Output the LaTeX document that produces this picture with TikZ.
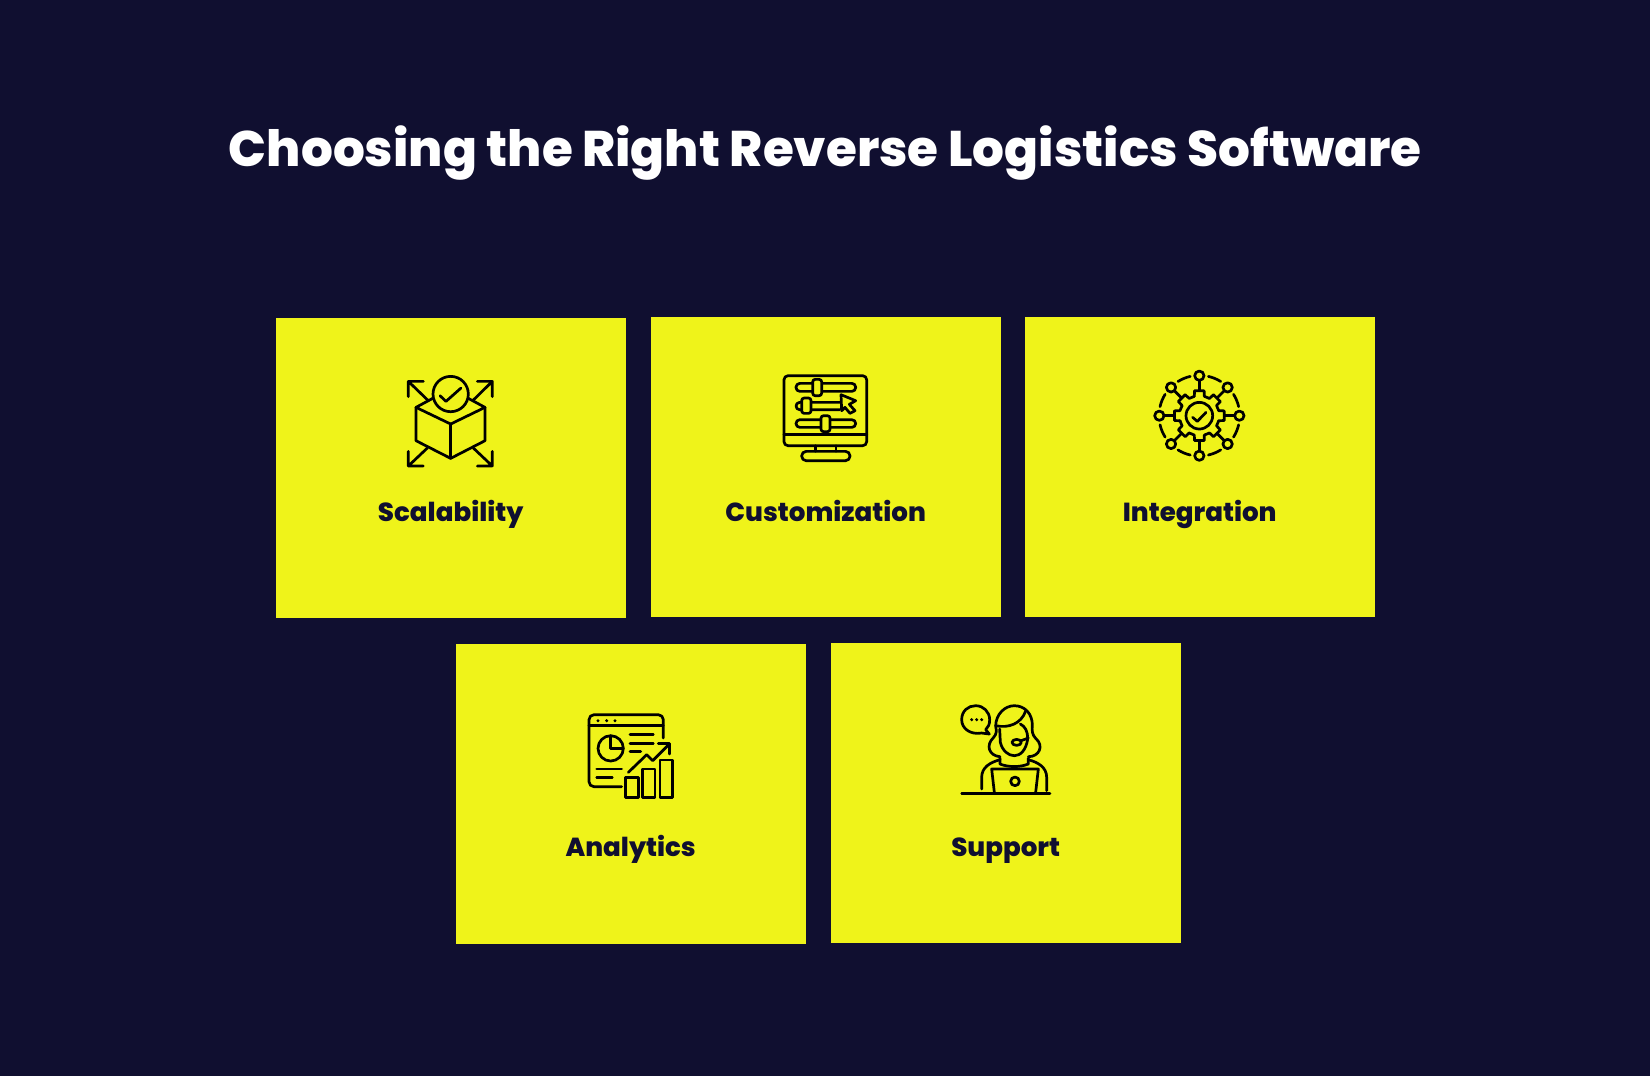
\documentclass[tikz,border=0pt]{standalone}
\usepackage{fontspec}
\usetikzlibrary{calc}
\setmainfont{Poppins}[BoldFont={Poppins Bold}]
\newfontfamily\heavyfont{Poppins ExtraBold}
\definecolor{navy}{HTML}{100F30}
\definecolor{lemon}{HTML}{EFF31A}
\tikzset{
  card/.style={fill=lemon,draw=none,anchor=north west,inner sep=0pt,minimum width=349.3pt,minimum height=300pt},
  cardlabel/.style={anchor=base,inner sep=0pt,text=navy,font=\fontsize{26.1}{32}\selectfont\heavyfont},
  titletext/.style={anchor=base,inner sep=0pt,text=white,font=\fontsize{50.05}{60}\selectfont\heavyfont},
  iconline/.style={draw=black,line width=2.7pt,line cap=round,line join=round,x=.33333pt,y=-.33333pt},
}
\begin{document}
\begin{tikzpicture}[x=1pt,y=-1pt]
\path[use as bounding box,fill=navy] (0,0) rectangle (1650,1076);
\node[titletext] (title) at (825.3,166) {Choosing the Right Reverse Logistics Software};
\node[card] (c1) at (276,318) {};
\node[card] (c2) at (651,317) {};
\node[card] (c3) at (1025,317) {};
\node[card] (c4) at (456,643.3) {};
\node[card] (c5) at (831,642.3) {};
\node[cardlabel] (l1) at (450.7,521.3) {Scalability};
\node[cardlabel] (l2) at (825.7,521.3) {Customization};
\node[cardlabel] (l3) at (1199.7,521.3) {Integration};
\node[cardlabel] (l4) at (630.7,856.3) {Analytics};
\node[cardlabel] (l5) at (1005.7,856.3) {Support};
% icon 1
\begin{scope}[shift={(390,360.7)},iconline]
\draw (182,100) circle (53);
\draw (150,105) -- (168,122) -- (213,82);
\draw (128,113) -- (78,140) -- (182,190) -- (285,140) -- (235,113);
\draw (78,140) -- (78,240) -- (182,293) -- (285,240) -- (285,140);
\draw (182,190) -- (182,293);
\draw (100,62) -- (55,62) -- (55,108) (55,62) -- (115,120);
\draw (262,62) -- (307,62) -- (307,108) (307,62) -- (248,120);
\draw (100,316) -- (55,316) -- (55,272) (55,316) -- (112,262);
\draw (262,316) -- (307,316) -- (307,272) (307,316) -- (250,262);
\end{scope}
% icon 2
\begin{scope}[shift={(765,360.7)},iconline]
\draw[rounded corners=4pt] (57,45) rectangle (305,255);
\draw (57,222) -- (305,222);
\draw (152,255) -- (152,272) (213,255) -- (213,272);
\draw[rounded corners=4.5pt] (110,272) rectangle (255,300);
\draw[rounded corners=3.8pt] (93,68) rectangle (272,92);
\draw[fill=lemon,rounded corners=2.5pt] (143,56) rectangle (170,105);
\draw (224,125) -- (104,125) arc[start angle=-90,end angle=-270,radius=11] -- (224,147);
\draw[fill=lemon,rounded corners=2.5pt] (110,112) rectangle (138,158);
\draw[rounded corners=3.8pt] (93,177) rectangle (272,200);
\draw[fill=lemon,rounded corners=2.5pt] (168,165) rectangle (195,213);
\draw[fill=lemon] (228,102) -- (272,120) -- (253,131) -- (270,150) -- (255,158) -- (240,140) -- (230,150) -- cycle;
\end{scope}
% icon 3
\begin{scope}[shift={(1140,360.7)},iconline]
\draw (178,165) circle (40);
\draw (158,170) -- (172,182) -- (198,155);
\foreach \a in {0,45,...,315}{
  \draw ($(178,165)+(\a:120)$) circle (14);
  \draw ($(178,165)+(\a:106)$) -- ($(178,165)+(\a:76)$);
  \draw ($(178,165)+(\a-14.5:60)$) -- ($(178,165)+(\a-11:76)$) -- ($(178,165)+(\a+11:76)$) -- ($(178,165)+(\a+14.5:60)$) -- ($(178,165)+(\a+30.5:60)$);
  \draw ($(178,165)+(\a+13:121)$) arc[start angle=\a+13,end angle=\a+32,radius=121];
}
\end{scope}
% icon 4
\begin{scope}[shift={(570,700.7)},iconline]
\draw[rounded corners=5pt] (155,258) -- (57,258) -- (57,42) -- (280,42) -- (280,112);
\draw (57,75) -- (280,75);
\fill (84,60) circle (5) (110,60) circle (5) (135,60) circle (5);
\draw (122,143) circle (38);
\draw (122,105) -- (122,143) -- (160,143);
\draw (180,102) -- (250,102) (180,128) -- (250,128) (180,153) -- (212,153);
\draw (80,205) -- (155,205) (80,230) -- (127,230);
\draw (175,215) -- (230,162) -- (248,180) -- (298,130);
\draw (265,128) -- (298,128) -- (298,160);
\draw (167,230) rectangle (205,290);
\draw (218,205) rectangle (255,290);
\draw (270,178) rectangle (307,290);
\end{scope}
% icon 5
\begin{scope}[shift={(945,695.7)},iconline]
\draw (110,112) .. controls (75,118) and (50,98) .. (50,72) .. controls (50,45) and (70,30) .. (92,30) .. controls (115,30) and (134,48) .. (134,72) .. controls (134,85) and (130,95) .. (122,102) -- (133,115) -- (110,112);
\fill (80,72) circle (5) (95,72) circle (5) (110,72) circle (5);
% hair
\draw (165,183) .. controls (133,180) and (120,150) .. (146,125) .. controls (155,115) and (155,105) .. (152,92)
  .. controls (152,55) and (180,30) .. (208,30) .. controls (240,30) and (262,55) .. (262,88)
  .. controls (260,105) and (262,118) .. (272,128) .. controls (298,150) and (283,183) .. (250,183);
\draw (152,90) .. controls (190,98) and (228,85) .. (242,46);
% face
\draw (164,100) -- (166,140) .. controls (172,165) and (190,180) .. (208,180) .. controls (225,180) and (243,165) .. (248,130);
\draw (226,85) .. controls (240,92) and (248,105) .. (248,130);
% mic
\draw[fill=lemon] (215,140) ellipse (14 and 9);
\draw (228,135) -- (250,127);
% neck
\draw (165,187) -- (165,205) .. controls (190,215) and (225,215) .. (250,205) -- (250,187);
% shoulders
\draw (110,280) -- (110,245) .. controls (110,215) and (135,200) .. (165,192);
\draw (305,285) -- (305,245) .. controls (305,215) and (280,200) .. (250,192);
% laptop
\draw (148,290) -- (140,220) -- (280,220) -- (272,290);
\draw (210,257) circle (13);
\draw (50,293) -- (315,293);
\end{scope}
\end{tikzpicture}
\end{document}
